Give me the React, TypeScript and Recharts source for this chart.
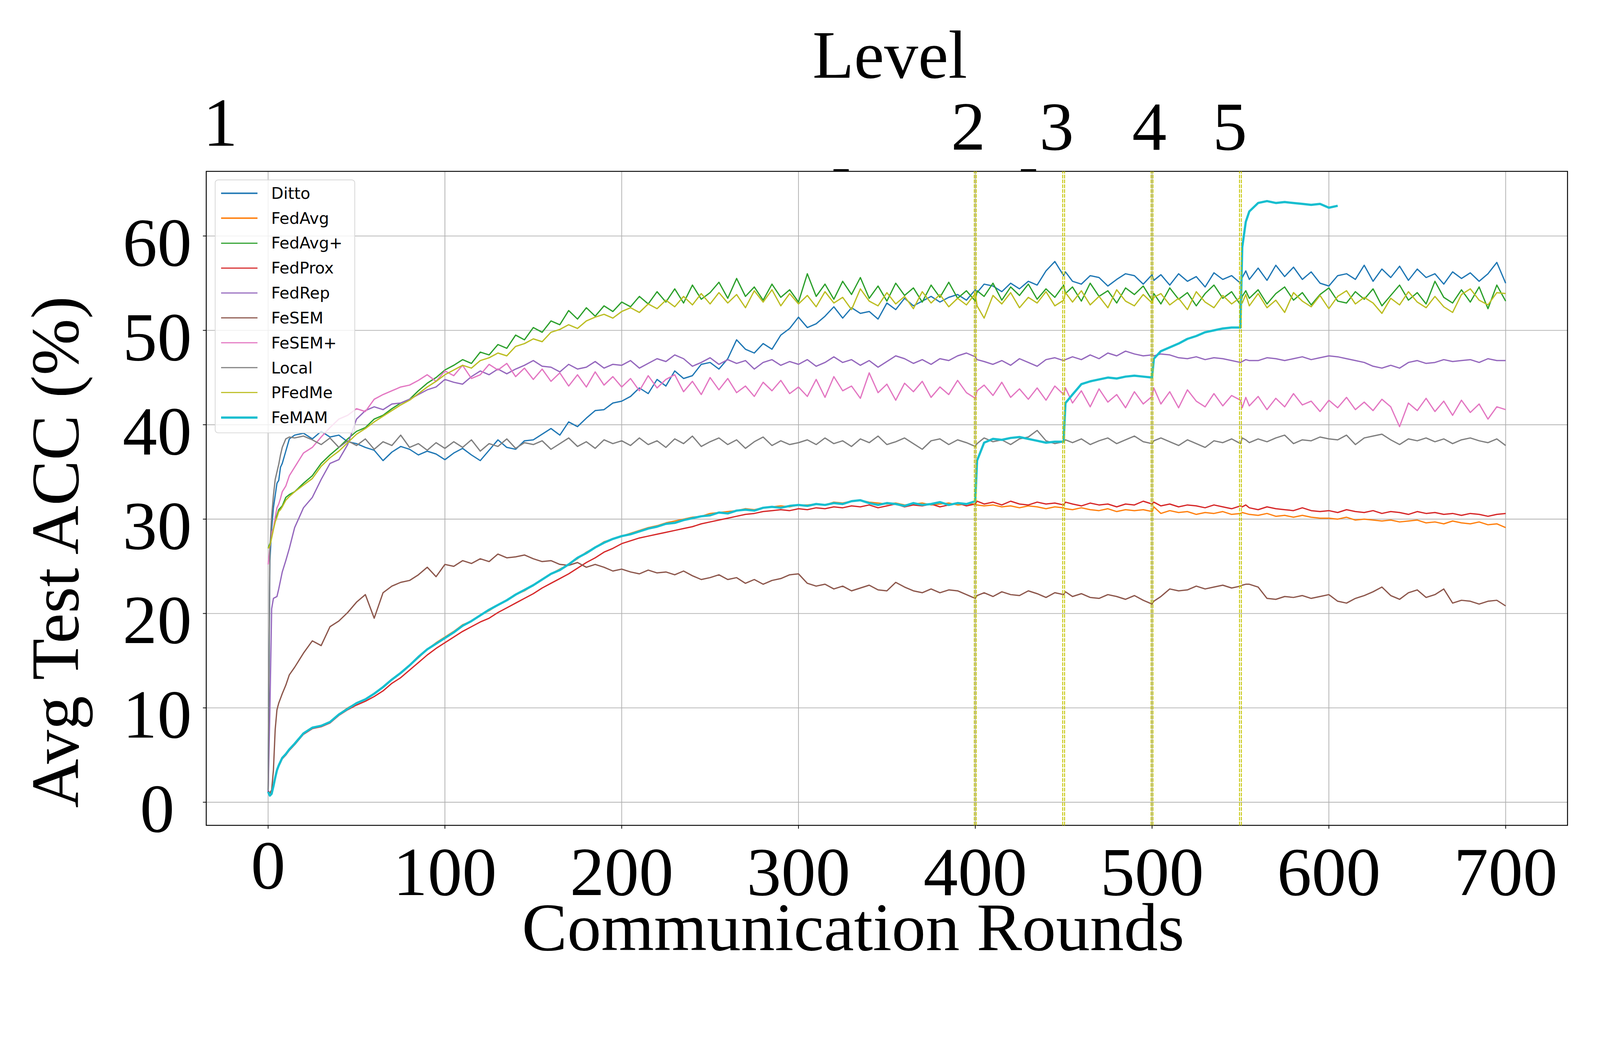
import React from 'react';
import {
  LineChart, Line, XAxis, YAxis, CartesianGrid, ReferenceLine, ReferenceArea
} from 'recharts';

// communication rounds sampled from the figure
const rounds = [
  0, 1, 2, 3, 4, 5, 6, 7, 8,
  10, 12, 15,
  20, 25, 30, 35, 40, 45, 50, 55, 60, 65, 70, 75, 80, 85, 90, 95, 100,
  105, 110, 115, 120, 125, 130, 135, 140, 145, 150, 155, 160, 165, 170, 175, 180, 185, 190, 195, 200,
  205, 210, 215, 220, 225, 230, 235, 240, 245, 250, 255, 260, 265, 270, 275, 280, 285, 290, 295, 300,
  305, 310, 315, 320, 325, 330, 335, 340, 345, 350, 355, 360, 365, 370, 375, 380, 385, 390, 395, 400,
  401,
  405, 410, 415, 420, 425, 430, 435, 440, 445, 450,
  451,
  455, 460, 465, 470, 475, 480, 485, 490, 495, 500,
  501,
  505, 510, 515, 520, 525, 530, 535, 540, 545, 550,
  551, 553,
  555, 560, 565, 570, 575, 580, 585, 590, 595, 600, 605, 610, 615, 620, 625, 630, 635, 640, 645, 650,
  655, 660, 665, 670, 675, 680, 685, 690, 695, 700,
];

const ditto = [
  1.0, 25.6, 29.0, 31.2, 32.5, 33.8, 34.1, 35.5, 35.9,
  37.2, 38.5, 38.9,
  39.1, 38.5, 39.3, 38.7, 38.9, 38.2, 38.0, 37.6, 37.3, 36.2, 37.1, 37.7, 37.4, 36.8, 37.2, 36.9, 36.3,
  37.0, 37.5, 36.8, 36.2, 37.3, 38.4, 37.6, 37.4, 38.3, 38.4, 39.0, 39.6, 38.9, 40.3, 39.8, 40.7, 41.5, 41.6, 42.3, 42.5,
  43.0, 43.9, 43.3, 44.8, 44.1, 45.7, 44.9, 45.2, 46.4, 46.6, 45.9, 47.0, 49.0, 48.0, 47.6, 48.6, 48.0, 49.5, 50.2, 51.4,
  50.3, 50.7, 51.5, 52.5, 51.3, 52.4, 51.8, 52.0, 51.2, 52.9, 52.2, 53.4, 52.6, 53.1, 53.6, 53.0, 53.5, 53.8, 53.2, 54.3,
  54.0,
  54.9, 54.7, 54.1, 55.0, 54.4, 55.2, 54.8, 56.3, 57.3, 55.8,
  56.2,
  55.2, 54.9, 55.8, 55.6, 54.7, 55.4, 56.0, 55.8, 54.9, 55.9,
  55.3,
  55.9, 54.8, 56.0, 55.2, 55.7, 54.6, 56.1, 55.4, 55.8, 55.0,
  55.6, 56.3,
  55.4, 56.6, 55.3, 56.9, 55.7, 56.7, 55.4, 56.2, 55.0, 54.7, 55.8, 56.0, 55.4, 56.9, 55.2, 56.5, 55.6, 56.8, 55.3, 56.5,
  55.6, 56.0, 54.9, 56.2, 55.5, 56.1, 55.2, 56.0, 57.2, 55.0,
];

const fedAvg = [
  1.1, 0.8, 1.0, 1.7, 2.6, 3.4, 3.9, 4.3, 4.7,
  5.1, 5.6, 6.2,
  7.3, 7.9, 8.1, 8.5, 9.3, 10.0, 10.5, 10.9, 11.5, 12.2, 13.0, 13.7, 14.5, 15.3, 16.2, 16.9, 17.5,
  18.1, 18.8, 19.2, 19.8, 20.3, 20.9, 21.4, 22.0, 22.4, 23.0, 23.6, 24.2, 24.7, 25.2, 25.8, 26.5, 27.0, 27.6, 27.9, 28.2,
  28.5, 28.8, 29.1, 29.3, 29.6, 29.8, 30.0, 30.2, 30.3, 30.6, 30.7, 30.8, 30.9, 31.1, 31.0, 31.2, 31.3, 31.4, 31.3, 31.5,
  31.5, 31.6, 31.5, 31.8, 31.7, 31.9, 32.0, 31.8, 31.7, 31.6, 31.7, 31.5, 31.6, 31.7, 31.5, 31.6, 31.7, 31.5, 31.6, 31.6,
  31.5,
  31.4, 31.5, 31.3, 31.4, 31.2, 31.4, 31.3, 31.1, 31.3, 31.2,
  31.1,
  31.0, 31.2, 31.0, 30.9, 31.1, 30.8, 31.0, 30.9, 31.0, 30.8,
  31.3,
  30.6, 30.9, 30.7, 30.8, 30.5, 30.7, 30.6, 30.8, 30.5, 30.6,
  30.7, 30.6,
  30.5, 30.4, 30.6, 30.3, 30.4, 30.2, 30.4, 30.2, 30.1, 30.1, 30.0, 30.2, 29.9, 30.0, 29.9, 29.8, 29.9, 29.7, 29.8, 29.9,
  29.6, 29.7, 29.5, 29.8, 29.6, 29.5, 29.7, 29.4, 29.5, 29.1,
];

const fedAvgPlus = [
  26.9, 27.4, 28.2, 29.0, 29.9, 30.4, 31.0, 31.2, 31.4,
  32.3, 32.6, 32.9,
  33.8, 34.6, 35.9, 36.8, 37.6, 38.5, 39.3, 39.7, 40.6, 41.0, 41.7, 42.3, 42.7, 43.6, 44.4, 45.0, 45.8,
  46.3, 46.9, 46.5, 47.7, 47.4, 48.5, 48.1, 49.5, 49.0, 50.3, 49.8, 51.0, 50.6, 52.1, 51.2, 52.4, 51.5, 52.6, 52.0, 53.0,
  52.5, 53.6, 52.8, 54.1, 53.0, 54.4, 52.9, 54.8, 53.3, 54.0, 55.1, 53.4, 55.5, 53.6, 54.6, 53.2, 54.9, 53.5, 54.3, 53.0,
  56.0, 53.6, 54.9, 53.3, 55.2, 53.8, 55.6, 53.4, 54.7, 53.1, 55.0, 53.7, 54.5, 53.0, 54.8, 53.5, 55.1, 53.4, 54.2, 53.1,
  54.2,
  53.6, 55.0, 53.2, 54.6, 53.7, 54.9, 53.3, 54.4, 53.5, 54.8,
  53.9,
  54.6, 53.1, 55.0, 53.6, 54.2, 52.9, 54.5, 53.8, 54.7, 53.2,
  53.9,
  52.8, 54.5, 53.3, 54.0, 52.6, 53.9, 54.8, 53.4, 54.1, 52.7,
  53.6, 54.2,
  53.4, 54.3, 52.8, 53.9, 54.6, 53.2, 54.0, 52.7, 53.8, 54.5, 53.1, 52.9, 54.1, 53.3, 54.4, 52.6, 53.7, 54.8, 53.2, 54.0,
  52.8, 55.2, 53.5, 52.9, 54.3, 53.0, 54.6, 52.3, 54.8, 53.1,
];

const fedProx = [
  1.1, 0.8, 1.0, 1.6, 2.5, 3.3, 3.8, 4.2, 4.6,
  5.0, 5.5, 6.1,
  7.2, 7.8, 8.0, 8.4, 9.2, 9.8, 10.3, 10.7, 11.2, 11.8, 12.6, 13.2, 14.0, 14.8, 15.6, 16.3, 16.9,
  17.5, 18.1, 18.6, 19.1, 19.5, 20.1, 20.6, 21.1, 21.6, 22.1, 22.7, 23.2, 23.7, 24.2, 24.8, 25.4, 25.9, 26.5, 26.9, 27.4,
  27.7, 28.0, 28.2, 28.4, 28.6, 28.8, 29.0, 29.2, 29.5, 29.7, 29.9, 30.1, 30.3, 30.5, 30.6, 30.8, 30.9, 31.0, 30.9, 31.1,
  31.0, 31.2, 31.1, 31.3, 31.2, 31.4, 31.3, 31.5, 31.2, 31.4, 31.6, 31.3, 31.5, 31.4, 31.6, 31.3, 31.5, 31.7, 31.4, 31.6,
  31.9,
  31.6, 31.8, 31.5, 31.9, 31.6, 31.5, 31.8, 31.6, 31.7, 31.5,
  31.8,
  31.6, 31.4, 31.7, 31.5, 31.6, 31.3, 31.6, 31.5, 31.9, 31.6,
  31.8,
  31.4, 31.6, 31.3, 31.5, 31.4, 31.2, 31.5, 31.3, 31.1, 31.4,
  31.3, 31.5,
  31.2, 31.0, 31.3, 31.1, 31.0, 30.9, 31.2, 30.9, 30.8, 30.9, 30.7, 31.0, 30.8, 30.7, 30.9, 30.6, 30.8, 30.7, 30.5, 30.8,
  30.6, 30.7, 30.5, 30.6, 30.4, 30.6, 30.5, 30.3, 30.5, 30.6,
];

const fedRep = [
  1.0, 9.8, 20.5, 21.6, 21.7, 21.8, 22.6, 23.5, 24.4,
  25.6, 26.9, 29.1,
  31.2, 32.3, 34.2, 35.9, 36.3, 37.9, 40.6, 41.5, 41.9, 41.6, 42.2, 42.3, 42.7, 43.2, 43.7, 44.0, 44.8,
  44.5, 44.3, 45.1, 45.7, 45.3, 45.9, 45.4, 45.9, 46.3, 46.8, 46.2, 46.1, 45.6, 46.4, 45.9, 46.1, 46.7, 46.0, 46.4, 46.3,
  46.8, 46.0, 46.5, 47.0, 46.7, 47.4, 47.0, 46.2, 46.6, 47.1, 46.4, 46.9, 46.5, 46.8, 45.9, 46.6, 46.9, 46.3, 46.7, 46.4,
  46.9, 46.2, 46.6, 47.2, 46.6, 46.9, 46.3, 46.8, 46.1, 46.7, 47.3, 47.0, 46.5, 46.9, 46.4, 47.0, 46.8, 47.3, 47.6, 47.2,
  46.9,
  46.7, 46.4, 46.8, 46.3, 47.0, 46.6, 46.2, 46.9, 47.1, 46.8,
  46.9,
  47.2, 46.9, 47.4, 47.0, 47.6, 47.3, 47.8, 47.5, 47.3, 47.4,
  47.3,
  47.5, 47.4, 47.1, 47.0, 47.2, 46.9, 47.1, 47.0, 46.8, 46.6,
  46.7, 46.9,
  46.8, 46.8, 47.1, 47.0, 46.8, 47.0, 47.2, 46.9, 47.1, 47.3, 47.2, 47.0, 46.8, 46.6, 46.2, 46.0, 46.3, 46.0, 46.6, 46.8,
  46.5, 46.6, 46.9, 46.7, 46.8, 46.9, 46.6, 47.0, 46.8, 46.8,
];

const feSem = [
  1.2, 1.0, 1.3, 3.4, 7.7, 9.8, 10.5, 11.0, 11.5,
  12.4, 13.5, 14.3,
  15.8, 17.1, 16.6, 18.6, 19.2, 20.1, 21.2, 22.0, 19.5, 22.2, 22.9, 23.3, 23.5, 24.1, 24.9, 23.9, 25.2,
  25.0, 25.6, 25.3, 25.8, 25.5, 26.3, 25.9, 26.0, 26.2, 25.8, 25.5, 25.6, 25.2, 25.1, 25.4, 24.9, 25.2, 24.9, 24.5, 24.7,
  24.4, 24.2, 24.6, 24.3, 24.4, 24.1, 24.5, 24.0, 23.6, 23.8, 24.1, 23.6, 23.8, 23.2, 23.6, 23.1, 23.5, 23.7, 24.1, 24.2,
  23.2, 22.9, 23.1, 22.6, 22.9, 22.4, 22.7, 23.0, 22.5, 22.4, 23.3, 22.8, 22.4, 22.2, 22.6, 22.2, 22.5, 22.4, 22.0, 21.6,
  21.9,
  22.2, 21.8, 22.3, 22.0, 21.9, 22.4, 22.1, 21.7, 22.2, 22.0,
  22.3,
  21.8, 22.1, 21.7, 21.6, 22.0, 21.8, 21.5, 21.9, 21.4, 21.0,
  21.3,
  21.8, 22.6, 22.4, 22.5, 22.9, 22.6, 22.8, 23.0, 22.7, 22.9,
  23.0, 23.1,
  23.1, 22.8, 21.6, 21.5, 21.8, 21.7, 21.9, 21.6, 21.8, 22.0, 21.3, 21.1, 21.6, 21.9, 22.3, 22.8, 21.9, 21.5, 22.2, 22.5,
  21.7, 22.0, 22.6, 21.1, 21.4, 21.3, 21.0, 21.3, 21.4, 20.8,
];

const feSemPlus = [
  25.2, 26.9, 28.6, 29.0, 30.2, 31.2, 31.6, 32.2, 32.9,
  33.5, 34.6, 35.5,
  37.0, 37.6, 38.7, 39.7, 40.6, 41.0, 41.7, 41.4, 42.7, 43.2, 43.6, 44.0, 44.2, 44.7, 45.3, 44.6, 45.7,
  45.2, 46.3, 44.9, 45.3, 46.4, 45.8, 46.5, 45.1, 46.0, 44.8, 45.9, 44.6, 45.5, 44.1, 45.3, 44.0, 45.6, 44.2, 45.1, 44.0,
  44.9, 43.6, 45.2, 43.9, 44.8, 45.3, 43.5, 44.6, 43.2, 45.0, 43.7, 44.9, 43.4, 44.1, 43.0, 44.5, 43.6, 44.7, 43.3, 44.0,
  43.0, 44.8, 42.9, 45.1, 43.6, 44.1, 42.8, 45.5, 43.4, 44.3, 42.6, 44.4, 43.5, 44.6, 42.9, 44.0, 43.2, 44.7, 43.4, 42.8,
  43.6,
  44.2, 43.1, 44.5, 42.9, 43.8, 42.7, 43.9, 42.6, 44.1, 43.2,
  43.9,
  42.3, 43.6, 41.9, 43.8, 42.4, 43.2, 41.8, 43.5, 42.2, 43.0,
  43.9,
  42.2, 43.5, 41.8, 43.7, 42.5, 41.9, 43.3, 42.0, 43.1, 42.6,
  41.8, 42.9,
  42.0, 43.0, 41.6, 42.8, 41.9, 43.3, 42.1, 42.5, 41.4, 42.6, 41.8, 42.9, 41.6, 42.4, 41.5, 42.7, 41.9, 39.8, 42.3, 41.5,
  42.8, 41.4, 42.5, 41.0, 42.6, 41.3, 42.2, 40.6, 41.9, 41.6,
];

const local = [
  1.3, 26.9, 30.3, 32.5, 34.2, 35.0, 35.8, 36.8, 37.6,
  38.5, 38.7, 38.6,
  38.8, 38.4, 37.9, 38.6, 37.6, 38.3, 37.8, 38.5, 37.4, 38.2, 37.8, 38.9, 37.6, 38.0, 37.3, 38.1, 37.5,
  38.2, 37.6, 38.4, 37.2, 38.0, 37.7, 38.5, 37.5, 38.1, 37.9, 38.3, 37.4, 38.0, 38.6, 37.7, 38.2, 37.5, 38.4, 38.0, 38.3,
  37.8, 38.6, 37.9, 38.3, 37.6, 38.5, 38.0, 38.8, 37.7, 38.2, 38.6, 37.9, 38.4, 37.5, 38.2, 38.7, 37.8, 38.3, 37.9, 38.1,
  38.4, 37.9, 38.6, 38.0, 38.3, 37.7, 38.5, 38.1, 38.8, 37.9, 38.2, 38.6, 38.0, 37.4, 38.3, 38.5, 37.9, 38.4, 38.1, 37.7,
  38.0,
  38.6, 38.2, 38.4, 37.9, 38.5, 38.7, 39.4, 38.3, 38.0, 38.2,
  38.4,
  38.1, 38.5, 37.9, 38.3, 38.6, 38.0, 38.4, 38.8, 38.2, 38.0,
  38.3,
  38.6, 38.2, 37.8, 38.4, 38.0, 37.6, 38.3, 38.1, 38.5, 38.0,
  38.6, 38.4,
  38.1, 38.5, 38.2, 38.6, 38.9, 38.0, 38.4, 38.3, 38.7, 38.5, 38.4, 38.9, 37.9, 38.6, 38.8, 39.0, 38.4, 37.9, 38.5, 38.3,
  38.6, 38.2, 38.5, 38.0, 38.4, 38.6, 38.3, 38.1, 38.5, 37.8,
];

const pFedMe = [
  26.9, 27.2, 28.0, 28.9, 29.7, 30.2, 30.8, 31.0, 31.3,
  32.0, 32.4, 32.9,
  33.6, 34.3, 35.6, 36.5, 37.2, 38.1, 39.0, 39.6, 40.3, 40.9, 41.5, 42.1, 42.6, 43.3, 44.0, 44.6, 45.3,
  45.8, 46.3, 46.0, 46.8, 47.1, 47.6, 47.3, 48.3, 48.6, 49.1, 48.8, 49.8, 50.1, 50.6, 50.2, 51.0, 51.4, 51.7, 51.3, 52.0,
  52.4, 51.9, 52.8, 52.3, 53.2, 52.5, 53.6, 52.7, 53.9, 52.8, 54.0, 52.9, 53.8, 52.4, 54.2, 53.0, 54.3, 52.6, 53.9, 52.8,
  53.7, 52.5, 54.1, 52.9, 53.5, 52.2, 54.4, 53.1, 52.6, 54.0, 52.8, 53.6, 52.3, 54.1, 52.9, 53.8, 52.5, 53.4, 52.7, 53.9,
  52.6,
  51.3, 53.7, 52.8, 54.0, 52.4, 53.5, 52.9, 54.1, 52.6, 53.2,
  54.0,
  53.0, 54.2, 52.7, 53.6, 52.4, 54.3, 53.1, 52.6, 53.8, 52.9,
  53.5,
  53.9, 52.7, 53.4, 52.2, 54.1, 53.0, 52.4, 53.7, 52.8, 53.5,
  52.9, 53.8,
  52.6, 53.9, 52.4, 53.2, 51.9, 54.0, 53.1, 52.5, 53.7, 52.3, 53.6, 54.2, 52.8, 53.5, 52.9, 51.8, 53.4, 52.7, 54.1, 53.0,
  52.4, 53.6, 52.5, 51.9, 53.8, 54.4, 53.2, 52.7, 54.0, 53.9,
];

// FeMAM stops at round 605
const feMam = [
  1.1, 0.7, 0.9, 1.7, 2.6, 3.4, 3.9, 4.3, 4.7,
  5.1, 5.6, 6.2,
  7.3, 7.9, 8.1, 8.5, 9.3, 9.9, 10.5, 10.9, 11.5, 12.2, 13.0, 13.7, 14.5, 15.4, 16.2, 16.8, 17.4,
  18.0, 18.7, 19.2, 19.8, 20.4, 20.9, 21.4, 22.0, 22.5, 23.0, 23.6, 24.2, 24.6, 25.2, 25.9, 26.4, 27.0, 27.5, 27.9, 28.2,
  28.4, 28.7, 29.0, 29.2, 29.5, 29.6, 29.9, 30.1, 30.3, 30.4, 30.7, 30.6, 30.9, 31.0, 30.9, 31.2, 31.3, 31.2, 31.4, 31.5,
  31.4, 31.6, 31.5, 31.7, 31.6, 31.9, 32.0, 31.7, 31.5, 31.7, 31.6, 31.4, 31.7, 31.5, 31.6, 31.8, 31.5, 31.7, 31.6, 31.9,
  36.2,
  38.1, 38.5, 38.4, 38.6, 38.7, 38.5, 38.3, 38.1, 38.2, 38.2,
  42.3,
  43.2, 44.3, 44.6, 44.8, 45.0, 44.9, 45.1, 45.2, 45.1, 45.0,
  47.0,
  47.8, 48.2, 48.6, 49.1, 49.4, 49.8, 50.0, 50.2, 50.3, 50.3,
  58.8, 61.5,
  62.6, 63.5, 63.7, 63.5, 63.6, 63.5, 63.4, 63.3, 63.4, 63.0, 63.2, null, null, null, null, null, null, null, null, null,
  null, null, null, null, null, null, null, null, null, null,
];

const xTicks = [0, 100, 200, 300, 400, 500, 600, 700];
const yTicks = [0, 10, 20, 30, 40, 50, 60];
const levelRounds = [400, 450, 500, 550];
const levelTicks = [-27, 396, 446, 498.5, 544];
const levelLabels = ['1', '2', '3', '4', '5'];
const topMarks = [324, 430];

const series = [
  { name: 'Ditto', values: ditto, color: '#1f77b4' },
  { name: 'FedAvg', values: fedAvg, color: '#ff7f0e' },
  { name: 'FedAvg+', values: fedAvgPlus, color: '#2ca02c' },
  { name: 'FedProx', values: fedProx, color: '#d62728' },
  { name: 'FedRep', values: fedRep, color: '#9467bd' },
  { name: 'FeSEM', values: feSem, color: '#8c564b' },
  { name: 'FeSEM+', values: feSemPlus, color: '#e377c2' },
  { name: 'Local', values: local, color: '#7f7f7f' },
  { name: 'PFedMe', values: pFedMe, color: '#bcbd22' },
  { name: 'FeMAM', values: feMam, color: '#17becf', thick: true },
];

const table = rounds.map((round, i) => {
  const row: Record<string, number | null> = { round };
  series.forEach((s) => { row[s.name] = s.values[i] ?? null; });
  return row;
});

// layout is drawn in reference pixels, then scaled to the visible viewport
const SCALE = 0.9506;
const W = 4293;
const H = 2687;
const PLOT = { left: 547, right: 4213, top: 453, bottom: 2214 };
const SERIF = "'Liberation Serif', 'Times New Roman', serif";
const TICK_FONT = 186;
const LABEL_FONT = 183;

const BottomTick = (props: any) => (
  <text x={props.x} y={props.payload.value === 0 ? 2384 : 2402} textAnchor="middle"
    fontFamily={SERIF} fontSize={TICK_FONT} fill="#000">
    {props.payload.value}
  </text>
);

const LeftTick = (props: any) => (
  <text x={415} y={props.y + 80} textAnchor="middle" fontFamily={SERIF} fontSize={TICK_FONT} fill="#000">
    {props.payload.value}
  </text>
);

const TopTick = (props: any) => {
  const v = props.payload.value;
  const k = levelTicks.indexOf(v);
  if (k < 0) {
    return <rect x={props.x - 20} y={PLOT.top - 6} width={41} height={6} fill="#000" />;
  }
  return (
    <text x={props.x} y={k === 0 ? 384 : 394} textAnchor="middle" fontFamily={SERIF} fontSize={TICK_FONT} fill="#000">
      {levelLabels[k]}
    </text>
  );
};

const LegendBox = () => (
  <div style={{
    position: 'absolute', left: 570, top: 475, width: 378, height: 683,
    border: '2px solid #d6d6d6', borderRadius: 9, background: 'rgba(255,255,255,0.8)',
    boxSizing: 'border-box',
  }}>
    {series.map((s, i) => (
      <div key={s.name} style={{ position: 'absolute', left: 0, top: 35 + i * 67.1 - 30, height: 60, width: 370 }}>
        <div style={{
          position: 'absolute', left: 15, top: 30 - (s.thick ? 2.8 : 1.6), width: 98,
          height: s.thick ? 5.6 : 3.2, background: s.color,
        }} />
        <span style={{
          position: 'absolute', left: 150, top: 0, lineHeight: '60px',
          fontFamily: "'DejaVu Sans', sans-serif", fontSize: 43, color: '#000', whiteSpace: 'nowrap',
        }}>{s.name}</span>
      </div>
    ))}
  </div>
);

export default function App() {
  return (
    <div style={{ width: W * SCALE, height: H * SCALE, overflow: 'hidden' }}>
      <div style={{
        position: 'relative', width: W, height: H, background: '#fff',
        transform: `scale(${SCALE})`, transformOrigin: '0 0',
      }}>
        <LineChart
          width={W}
          height={H}
          data={table}
          margin={{ top: 0, right: W - PLOT.right, bottom: 0, left: 0 }}
        >
          <CartesianGrid xAxisId="bottom" yAxisId="acc" stroke="#b0b0b0" strokeWidth={2} />
          <XAxis
            xAxisId="bottom" dataKey="round" type="number" domain={[-35, 735]} ticks={xTicks}
            interval={0} height={H - PLOT.bottom} axisLine={false}
            tickLine={{ stroke: '#000', strokeWidth: 2 }} tickSize={9} tick={BottomTick}
          />
          <XAxis
            xAxisId="top" orientation="top" dataKey="round" type="number" domain={[-35, 735]}
            ticks={[...levelTicks, ...topMarks].sort((a, b) => a - b)} interval={0}
            height={PLOT.top} axisLine={false} tickLine={false} tick={TopTick}
          />
          <YAxis
            yAxisId="acc" type="number" domain={[-2.45, 66.85]} ticks={yTicks} interval={0}
            width={PLOT.left} axisLine={false} tickLine={{ stroke: '#000', strokeWidth: 2 }}
            tickSize={9} tick={LeftTick}
          />
          {series.map((s) => (
            <Line
              key={s.name} xAxisId="bottom" yAxisId="acc" type="linear" dataKey={s.name}
              stroke={s.color} strokeWidth={s.thick ? 6 : 3.4} dot={false} activeDot={false}
              strokeLinejoin="round" isAnimationActive={false}
            />
          ))}
          {levelRounds.map((r) => (
            <ReferenceLine key={`a${r}`} xAxisId="bottom" yAxisId="acc" x={r - 0.55}
              stroke="#c4c400" strokeWidth={2.4} strokeDasharray="10 3" />
          ))}
          {levelRounds.map((r) => (
            <ReferenceLine key={`b${r}`} xAxisId="bottom" yAxisId="acc" x={r + 0.5}
              stroke="#c4c400" strokeWidth={2.4} strokeDasharray="10 3" />
          ))}
          <ReferenceArea xAxisId="bottom" yAxisId="acc" x1={-35} x2={735} y1={-2.45} y2={66.85}
            fill="none" stroke="#000" strokeWidth={2.5} ifOverflow="visible" />
        </LineChart>
        <svg width={W} height={H} style={{ position: 'absolute', left: 0, top: 0, pointerEvents: 'none' }}>
          <text x={2388} y={201} textAnchor="middle" fontFamily={SERIF} fontSize={LABEL_FONT} fill="#000">Level</text>
          <text x={2289} y={2550} textAnchor="middle" fontFamily={SERIF} fontSize={LABEL_FONT} fill="#000">
            Communication Rounds
          </text>
          <text transform="translate(202,1478) rotate(-90)" textAnchor="middle" fontFamily={SERIF}
            fontSize={LABEL_FONT} fill="#000">Avg Test ACC (%)</text>
        </svg>
        <LegendBox />
      </div>
    </div>
  );
}
